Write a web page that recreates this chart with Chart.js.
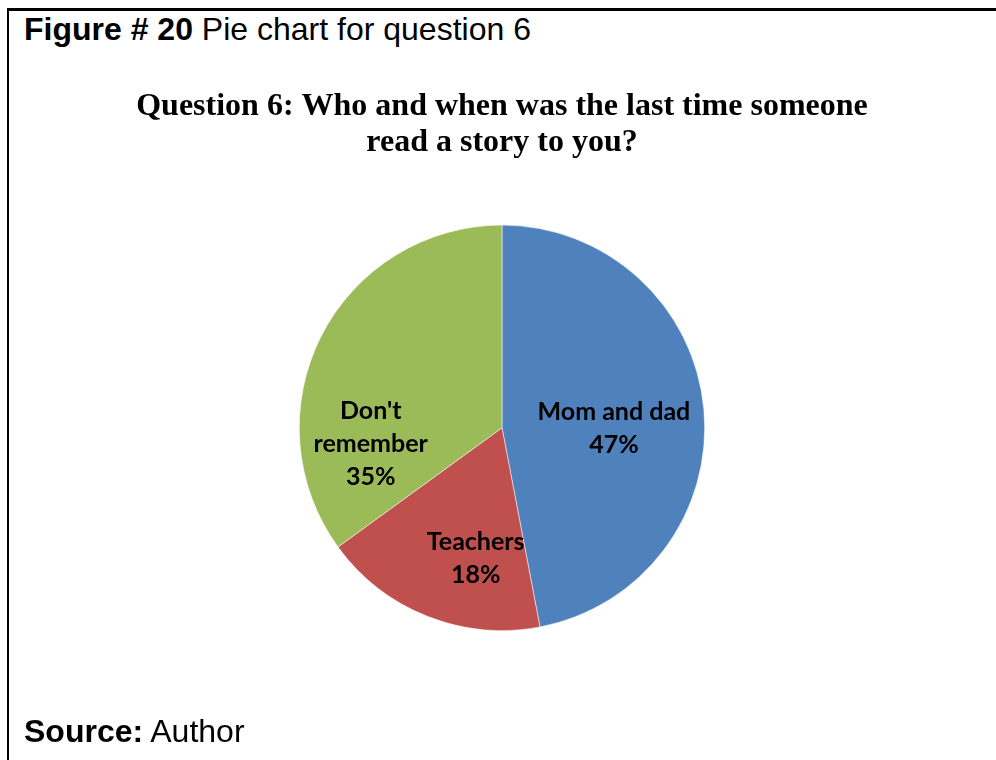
<!DOCTYPE html>
<html>
<head>
<meta charset="utf-8">
<script src="https://cdn.jsdelivr.net/npm/chart.js@4/dist/chart.umd.min.js"></script>
<style>
  body { margin: 0; background: #fff; }
  #wrap { position: relative; width: 996px; height: 760px; overflow: hidden; }
  #chart { position: absolute; left: 0; top: 0; }
  .rule-top { position: absolute; left: 7px; top: 8px; width: 989px; height: 3px; background: #000; }
  .rule-left { position: absolute; left: 7px; top: 8px; width: 2px; height: 752px; background: #000; }
  .caption { position: absolute; left: 24px; font-family: "Liberation Sans", Arial, sans-serif; font-size: 32px; color: #000; white-space: nowrap; }
  .caption b { font-weight: bold; }
</style>
</head>
<body>
<div id="wrap">
  <div class="rule-top"></div>
  <div class="rule-left"></div>
  <div class="caption" style="top:11px"><b>Figure # 20</b> Pie chart for question 6</div>
  <canvas id="chart" width="996" height="760"></canvas>
  <div class="caption" style="top:713px"><b>Source:</b> Author</div>
</div>
<script>
// Chart data
const categories = ['Mom and dad', 'Teachers', "Don't remember"];
const responses = [47, 18, 35];
const sliceColors = ['#4F81BD', '#C0504D', '#9BBB59'];
const chartTitle = ['Question 6: Who and when was the last time someone', 'read a story to you?'];

// Label placement, relative to each slice's center point
const labelPlacement = [
    { dx: 11, dy: 10, wrap: false },
    { dx: 11, dy: 36, wrap: false },
    { dx: -41, dy: 62, wrap: true }
];

// Draw category name and percentage inside each slice
const sliceLabels = {
    id: 'sliceLabels',
    afterDatasetsDraw(chart) {
        const ctx = chart.ctx;
        const meta = chart.getDatasetMeta(0);
        const values = chart.data.datasets[0].data;
        const total = values.reduce((a, b) => a + b, 0);
        ctx.save();
        ctx.font = 'bold 25px Lato, "Open Sans", sans-serif';
        ctx.fillStyle = '#000';
        ctx.textAlign = 'center';
        ctx.textBaseline = 'middle';
        const lineH = 33;
        meta.data.forEach((arc, i) => {
            const pos = arc.getCenterPoint();
            const place = labelPlacement[i];
            const name = chart.data.labels[i];
            const lines = place.wrap ? name.split(' ') : [name];
            lines.push(Math.round(values[i] / total * 100) + '%');
            const x = pos.x + place.dx;
            const y0 = pos.y + place.dy - (lines.length - 1) * lineH / 2;
            lines.forEach((t, k) => ctx.fillText(t, x, y0 + k * lineH));
        });
        ctx.restore();
    }
};

const pieChart = new Chart(document.getElementById('chart'), {
    type: 'pie',
    data: {
        labels: categories,
        datasets: [{
            data: responses,
            backgroundColor: sliceColors,
            borderColor: 'rgba(255,255,255,0.5)',
            borderWidth: 1
        }]
    },
    options: {
        responsive: false,
        animation: false,
        layout: {
            padding: { left: 8, right: 0, top: 0, bottom: 129 }
        },
        plugins: {
            legend: { display: false },
            tooltip: { enabled: false },
            title: {
                display: true,
                text: chartTitle,
                color: '#000',
                font: { family: '"Liberation Serif", "Times New Roman", serif', size: 32, weight: 'bold', lineHeight: 1.15 },
                padding: { top: 88, bottom: 63 }
            }
        }
    },
    plugins: [sliceLabels]
});
</script>
</body>
</html>
